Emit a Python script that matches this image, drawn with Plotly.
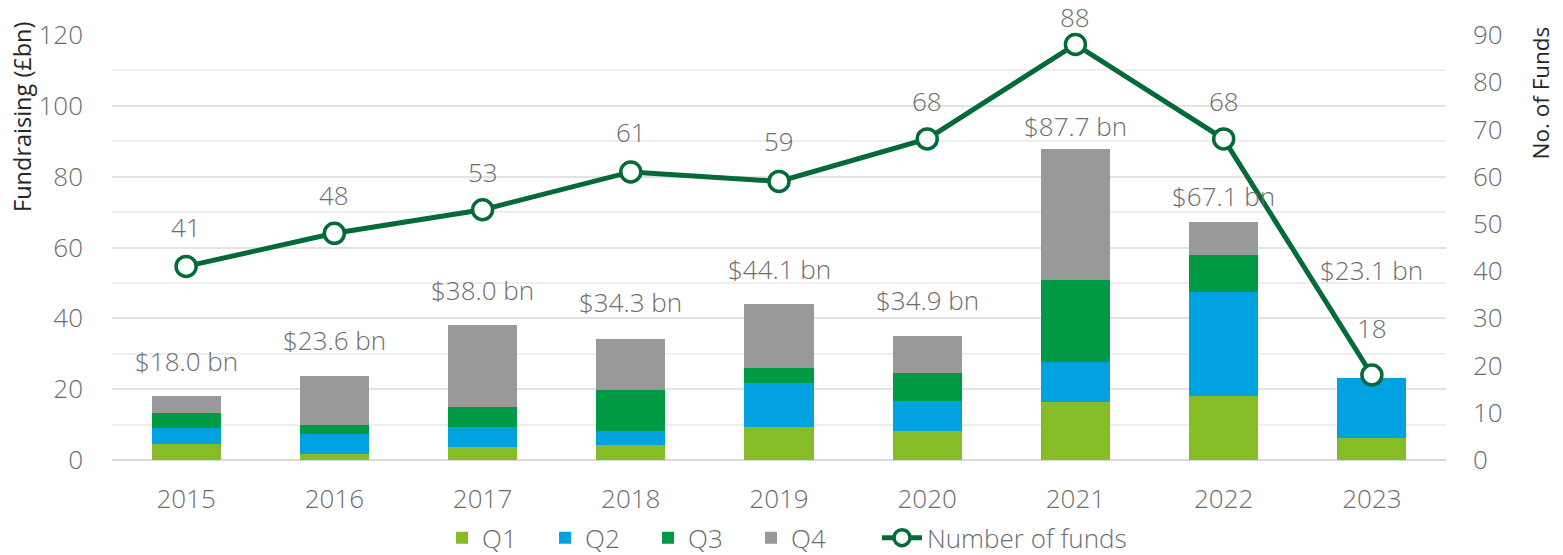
import plotly.graph_objects as go

years = ["2015", "2016", "2017", "2018", "2019", "2020", "2021", "2022", "2023"]
q1 = [4.6, 1.6, 3.7, 4.3, 9.2, 8.1, 16.4, 18.0, 6.3]
q2 = [4.4, 5.8, 5.7, 4.0, 12.5, 8.6, 11.3, 29.4, 16.8]
q3 = [4.2, 2.4, 5.5, 11.4, 4.4, 7.8, 23.1, 10.5, 0.0]
q4 = [4.8, 13.8, 23.1, 14.6, 18.0, 10.4, 36.9, 9.2, 0.0]
totals = [18.0, 23.6, 38.0, 34.3, 44.1, 34.9, 87.7, 67.1, 23.1]
total_labels = ["$18.0 bn", "$23.6 bn", "$38.0 bn", "$34.3 bn", "$44.1 bn",
                "$34.9 bn", "$87.7 bn", "$67.1 bn", "$23.1 bn"]
num_funds = [41, 48, 53, 61, 59, 68, 88, 68, 18]

# label offsets (pixels above the data point) - styling only
total_shift = [35, 36, 35, 37, 35, 36, 23, 26, 108]
funds_shift = [39, 38, 38, 40, 40, 38, 27, 38, 47]

FONT = "Open Sans"
FS = 26
LABEL_GRAY = "#6d6d6d"
colors = {"Q1": "#86BC25", "Q2": "#00A3E0", "Q3": "#009A44", "Q4": "#97999B"}
LINE_GREEN = "#046A38"

def lf(size=FS, color=LABEL_GRAY, weight=300):
    return dict(family=FONT, size=size, color=color, weight=weight)

fig = go.Figure()
for name, vals in [("Q1", q1), ("Q2", q2), ("Q3", q3), ("Q4", q4)]:
    fig.add_trace(go.Bar(
        x=years, y=vals, name=name,
        marker=dict(color=colors[name], line=dict(width=0)),
        yaxis="y", legend="legend",
    ))

fig.add_trace(go.Scatter(
    x=years, y=num_funds, name="Number of funds", yaxis="y2",
    mode="lines+markers",
    line=dict(color=LINE_GREEN, width=5),
    marker=dict(size=20, color="white", line=dict(color=LINE_GREEN, width=3.5)),
    cliponaxis=False, legend="legend2",
))

# annotations on a category axis: use the category index of each year
annotations = []
for i, (t, lab, sh) in enumerate(zip(totals, total_labels, total_shift)):
    annotations.append(dict(x=i, y=t, xref="x", yref="y", text=lab,
                            showarrow=False, yshift=sh, font=lf()))
for i, (n, sh) in enumerate(zip(num_funds, funds_shift)):
    annotations.append(dict(x=i, y=n, xref="x", yref="y2", text=str(n),
                            showarrow=False, yshift=sh, font=lf()))

annotations.append(dict(x=-0.0675, y=1, xref="paper", yref="paper", yanchor="top",
                        yshift=15, xanchor="center",
                        text="Fundraising (£bn)", textangle=-90, showarrow=False,
                        font=lf(23.5, "#262626", 400)))
annotations.append(dict(x=1.0705, y=1, xref="paper", yref="paper", yanchor="top",
                        yshift=10, xanchor="center",
                        text="No. of Funds", textangle=-90, showarrow=False,
                        font=lf(22.5, "#262626", 400)))

fig.update_layout(
    width=1563, height=555,
    margin=dict(l=112, r=117, t=35, b=95, pad=0, autoexpand=False),
    paper_bgcolor="white", plot_bgcolor="white",
    barmode="stack", bargap=0.534,
    font=lf(),
    xaxis=dict(type="category", range=[-0.5, len(years) - 0.5],
               showgrid=False, showline=False, ticks="",
               ticklabelstandoff=21, automargin=False, tickfont=lf()),
    yaxis=dict(range=[0, 120], dtick=20, showline=False, automargin=False,
               gridcolor="#e3e3e3", gridwidth=2,
               minor=dict(dtick=10, showgrid=True, gridcolor="#eeeeee", gridwidth=2),
               zeroline=True, zerolinecolor="#d9d9d9", zerolinewidth=2,
               ticklabelstandoff=28, tickfont=lf()),
    yaxis2=dict(range=[0, 90], dtick=10, overlaying="y", side="right",
                showgrid=False, zeroline=False, showline=False, automargin=False,
                ticklabelstandoff=26, tickfont=lf()),
    legend=dict(orientation="h", x=0.2474, xanchor="left", y=-0.183, yanchor="middle",
                font=lf(), entrywidth=58, entrywidthmode="pixels",
                traceorder="normal", bgcolor="rgba(0,0,0,0)"),
    legend2=dict(orientation="h", x=(877 - 112) / 1334, xanchor="left",
                 y=-0.183, yanchor="middle", itemwidth=40,
                 font=lf(), bgcolor="rgba(0,0,0,0)"),
    annotations=annotations,
    showlegend=True,
)

fig.write_html("out.html", config={"displayModeBar": False},
               post_script="document.body.style.margin='0';")
